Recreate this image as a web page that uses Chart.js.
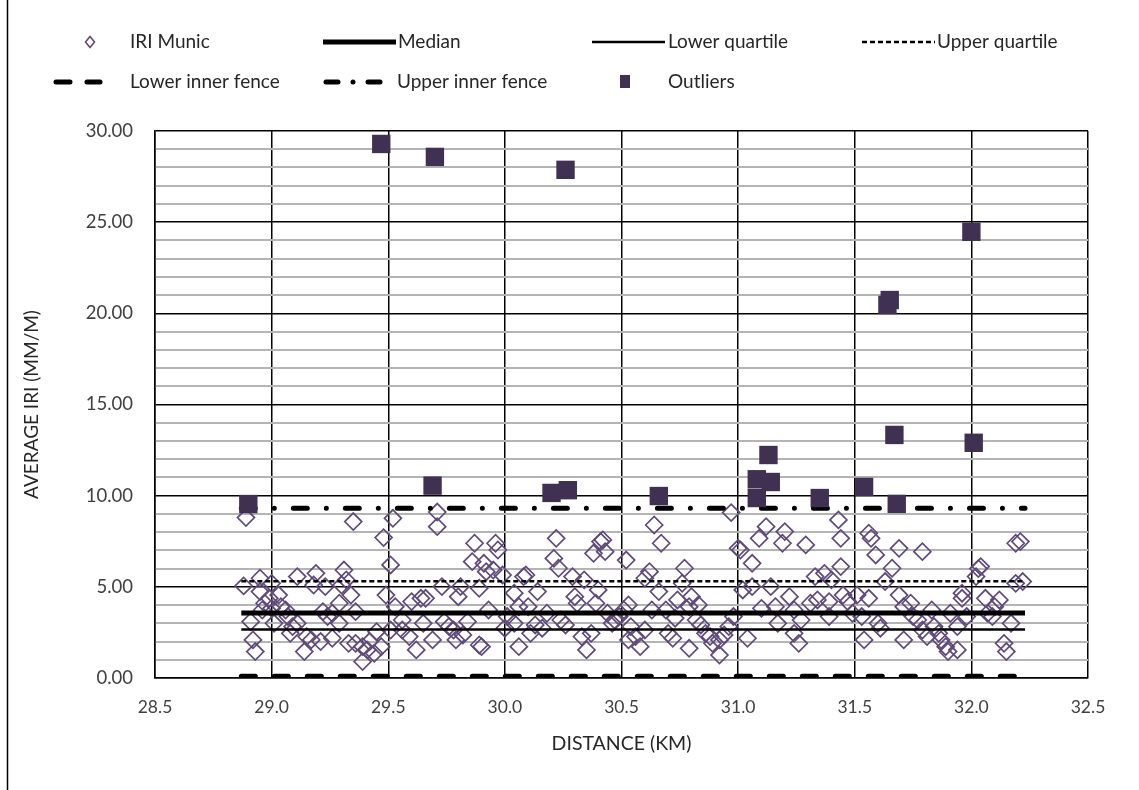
<!DOCTYPE html>
<html>
<head>
<meta charset="utf-8">
<script src="https://cdn.jsdelivr.net/npm/chart.js@4"></script>
<style>
  html, body { margin: 0; padding: 0; background: #fff; }
  #wrap { width: 1139px; height: 790px; position: relative; }
</style>
</head>
<body>
<div id="wrap"><canvas id="iri-chart"></canvas></div>
<script>
// IRI readings (distance km, IRI mm/m)
const iriX = [
  28.88, 28.89, 28.91, 28.92, 28.93, 28.95, 28.95, 28.96, 28.97, 28.99, 29.00, 29.00, 29.01, 29.03, 29.04, 29.06,
  29.07, 29.08, 29.09, 29.11, 29.11, 29.14, 29.15, 29.17, 29.18, 29.19, 29.21, 29.22, 29.23, 29.24, 29.26, 29.26,
  29.29, 29.29, 29.30, 29.31, 29.32, 29.33, 29.34, 29.35, 29.36, 29.36, 29.39, 29.39, 29.41, 29.42, 29.44, 29.45,
  29.47, 29.48, 29.49, 29.51, 29.51, 29.52, 29.53, 29.56, 29.56, 29.59, 29.60, 29.62, 29.64, 29.65, 29.66, 29.69,
  29.71, 29.71, 29.73, 29.74, 29.76, 29.78, 29.79, 29.80, 29.81, 29.82, 29.84, 29.86, 29.87, 29.89, 29.89, 29.90,
  29.91, 29.92, 29.93, 29.95, 29.96, 29.97, 29.99, 30.00, 30.01, 30.04, 30.04, 30.06, 30.06, 30.08, 30.09, 30.10,
  30.11, 30.13, 30.14, 30.16, 30.18, 30.21, 30.22, 30.23, 30.24, 30.26, 30.29, 30.30, 30.31, 30.33, 30.34, 30.35,
  30.37, 30.38, 30.39, 30.40, 30.41, 30.42, 30.43, 30.44, 30.46, 30.47, 30.49, 30.51, 30.52, 30.53,
  30.53, 30.54, 30.56, 30.58, 30.60, 30.60, 30.62, 30.63, 30.64, 30.66, 30.67, 30.69, 30.70, 30.72, 30.73, 30.74,
  30.76, 30.77, 30.79, 30.79, 30.80, 30.82, 30.83, 30.84, 30.86, 30.88, 30.89, 30.92, 30.92, 30.94, 30.96, 30.97,
  30.98, 31.00, 31.01, 31.02, 31.04, 31.06, 31.06, 31.09, 31.10, 31.12, 31.14, 31.16, 31.17, 31.19, 31.20, 31.22,
  31.24, 31.24, 31.26, 31.27, 31.29, 31.31, 31.33, 31.34, 31.37,
  31.39, 31.39, 31.40, 31.43, 31.44, 31.44, 31.45, 31.47, 31.49, 31.51, 31.53, 31.54, 31.56, 31.56, 31.57, 31.59,
  31.60, 31.61, 31.63, 31.66, 31.69, 31.69, 31.71, 31.71, 31.74, 31.75, 31.77, 31.79, 31.79, 31.81, 31.83, 31.84,
  31.86, 31.87, 31.89, 31.90, 31.91, 31.94, 31.94, 31.96, 31.96, 31.98, 32.02, 32.03, 32.04, 32.06, 32.07, 32.09,
  32.10, 32.12, 32.14, 32.15, 32.17, 32.19, 32.21, 32.19, 32.22
];
const iriY = [
  5.05, 8.80, 3.09, 2.09, 1.45, 5.47, 4.74, 3.73, 4.10, 4.37, 5.19, 3.82, 3.00, 4.55, 3.91, 3.73,
  3.37, 2.45, 2.82, 5.56, 3.00, 1.45, 2.27, 2.09, 5.10, 5.74, 2.00, 3.64, 5.01, 3.37, 2.18, 3.55,
  4.10, 3.00, 5.10, 5.92, 5.38, 1.90, 4.55, 8.58, 3.64, 1.90, 0.90, 1.72, 1.54, 2.00, 1.35, 2.54,
  1.72, 7.70, 4.55, 6.20, 2.63, 8.76, 3.91, 2.63, 3.18, 2.27, 4.19, 1.54, 4.37, 3.00, 4.37, 2.09,
  9.10, 8.30, 5.01, 3.09, 2.82, 2.63, 2.09, 4.46, 5.01, 2.36, 3.09, 6.38, 7.39, 4.92, 1.81, 1.72,
  6.29, 5.83, 3.73, 5.92, 7.39, 7.02, 5.65, 2.73, 3.37, 4.65, 3.00, 3.91, 1.72, 5.56, 5.65, 3.91,
  2.45, 2.91, 4.74, 2.73, 3.55, 6.56, 7.66, 6.02, 3.18, 2.91, 5.56, 4.46, 4.10, 2.27, 5.38, 1.54,
  2.45, 6.84, 4.10, 4.83, 7.48, 7.57, 6.93, 3.55, 3.00, 3.18, 3.37, 3.73, 6.47, 2.09,
  4.01, 2.82, 2.27, 1.72, 5.47, 2.63, 5.83, 3.73, 8.39, 4.74, 7.39, 3.73, 2.45, 2.18, 3.28, 4.28,
  5.19, 6.02, 3.91, 1.63, 4.46, 3.18, 4.01, 2.91, 2.45, 2.27, 1.90, 1.26, 2.09, 2.36, 2.82, 9.07,
  3.37, 7.11, 7.02, 4.83, 2.18, 6.29, 5.01, 7.66, 3.82, 8.30, 5.01, 3.91, 3.00, 7.39, 8.03, 4.46,
  2.45, 3.73, 1.90, 3.18, 7.30, 4.10, 5.56, 4.28, 5.74,
  4.19, 3.37, 5.38, 8.67, 7.66, 6.11, 4.55, 4.19, 3.55, 4.55, 3.37, 2.09, 4.37, 7.94, 7.66, 6.75,
  3.00, 2.73, 5.29, 6.02, 7.11, 4.55, 2.09, 3.91, 4.10, 3.37, 3.18, 6.93, 2.63, 2.27, 3.73, 2.82,
  2.45, 2.09, 1.72, 1.45, 3.55, 1.54, 2.82, 4.65, 4.37, 3.37, 5.56, 6.00, 6.11, 4.37, 3.55, 3.37,
  3.91, 4.28, 1.90, 1.45, 3.00, 7.39, 7.48, 5.19, 5.29
];

// outliers
const outX = [28.90, 29.47, 29.69, 29.70, 30.20, 30.26, 30.27, 30.66, 31.08, 31.08, 31.13, 31.14,
  31.35, 31.54, 31.64, 31.65, 31.67, 31.68, 32.00, 32.01];
const outY = [9.54, 29.29, 10.55, 28.58, 10.15, 27.87, 10.30, 9.98, 10.90, 9.87, 12.23, 10.75,
  9.87, 10.48, 20.46, 20.73, 13.33, 9.55, 24.47, 12.90];

// box statistics
const lineStart = 28.87;
const lineEnd = 32.23;
const median = 3.57;
const lowerQuartile = 2.66;
const upperQuartile = 5.30;
const lowerInnerFence = 0.1;
const upperInnerFence = 9.31;

const xTicks = [28.5, 29.0, 29.5, 30.0, 30.5, 31.0, 31.5, 32.0, 32.5];
const yTicks = [0, 5, 10, 15, 20, 25, 30];

const FONT = "Lato";
const PURPLE = "#604a7b";
const DARK = "#403152";

function hLine(label, y, width, dash, order) {
    return {
        type: "scatter",
        label: label,
        data: [{ x: lineStart, y: y }, { x: lineEnd, y: y }],
        showLine: true,
        borderColor: "#000",
        borderWidth: width,
        borderDash: dash,
        borderCapStyle: dash.length ? "round" : "butt",
        pointRadius: 0,
        pointHoverRadius: 0,
        order: order,
    };
}

const legendItems = [
    { label: "IRI Munic", kind: "diamond", x0: 90, tx: 130, y: 42 },
    { label: "Median", kind: "line", x0: 323, x1: 396, tx: 398, y: 42, w: 5, dash: [] },
    { label: "Lower quartile", kind: "line", x0: 592, x1: 665, tx: 668, y: 42, w: 2.5, dash: [] },
    { label: "Upper quartile", kind: "line", x0: 862, x1: 935, tx: 937, y: 42, w: 2.5, dash: [5, 3], cap: "butt" },
    { label: "Lower inner fence", kind: "line", x0: 56, x1: 100, tx: 130, y: 82, w: 5, dash: [14, 17] },
    { label: "Upper inner fence", kind: "line", x0: 326, x1: 392, tx: 397, y: 82, w: 5, dash: [12, 15, 0.01, 15] },
    { label: "Outliers", kind: "square", x0: 625, tx: 668, y: 82 },
];

const legendPlugin = {
    id: "legendPlugin",
    afterDraw(chart) {
        const ctx = chart.ctx;
        ctx.save();
        // outer frame (left edge)
        ctx.strokeStyle = "#000";
        ctx.lineWidth = 1.5;
        ctx.beginPath();
        ctx.moveTo(7.5, 0);
        ctx.lineTo(7.5, 790);
        ctx.stroke();

        ctx.font = "19px " + FONT;
        ctx.fillStyle = "#262626";
        ctx.textBaseline = "middle";
        legendItems.forEach(it => {
            if (it.kind === "diamond") {
                ctx.strokeStyle = PURPLE;
                ctx.lineWidth = 1.6;
                ctx.setLineDash([]);
                ctx.beginPath();
                ctx.moveTo(it.x0, it.y - 5.5);
                ctx.lineTo(it.x0 + 4.5, it.y);
                ctx.lineTo(it.x0, it.y + 5.5);
                ctx.lineTo(it.x0 - 4.5, it.y);
                ctx.closePath();
                ctx.stroke();
            } else if (it.kind === "square") {
                ctx.fillStyle = DARK;
                ctx.fillRect(it.x0 - 5, it.y - 7, 10, 13);
                ctx.fillStyle = "#262626";
            } else {
                ctx.strokeStyle = "#000";
                ctx.lineWidth = it.w;
                ctx.lineCap = it.cap || (it.dash.length ? "round" : "butt");
                ctx.setLineDash(it.dash);
                ctx.beginPath();
                ctx.moveTo(it.x0, it.y);
                ctx.lineTo(it.x1, it.y);
                ctx.stroke();
                ctx.setLineDash([]);
            }
            ctx.fillText(it.label, it.tx, it.y);
        });
        ctx.restore();
    },
};

const canvas = document.querySelector("#iri-chart");
new Chart(canvas, {
    data: {
        datasets: [
            {
                type: "scatter",
                label: "IRI Munic",
                data: iriX.map((x, i) => ({ x: x, y: iriY[i] })),
                pointStyle: "rectRot",
                pointRadius: 8.5,
                pointBorderColor: PURPLE,
                pointBackgroundColor: "rgba(0,0,0,0)",
                pointBorderWidth: 1.7,
                order: 10,
            },
            hLine("Median", median, 5, [], 2),
            hLine("Lower quartile", lowerQuartile, 2.5, [], 3),
            Object.assign(hLine("Upper quartile", upperQuartile, 2.5, [5, 3], 4), { borderCapStyle: "butt" }),
            hLine("Lower inner fence", lowerInnerFence, 5, [14, 19], 5),
            hLine("Upper inner fence", upperInnerFence, 5, [14, 19, 0.01, 19], 6),
            {
                type: "scatter",
                label: "Outliers",
                data: outX.map((x, i) => ({ x: x, y: outY[i] })),
                pointStyle: "rect",
                pointRadius: 13,
                pointBorderWidth: 0,
                pointBackgroundColor: DARK,
                pointBorderColor: DARK,
                order: 0,
            },
        ],
    },
    options: {
        responsive: true,
        maintainAspectRatio: false,
        animation: false,
        layout: { padding: { top: 131, right: 51, bottom: 33, left: 18 } },
        plugins: {
            legend: { display: false },
            tooltip: { enabled: false },
        },
        scales: {
            x: {
                type: "linear",
                min: 28.5,
                max: 32.5,
                afterBuildTicks: s => { s.ticks = xTicks.map(v => ({ value: v })); },
                afterFit: s => { s.height = 79; },
                ticks: {
                    callback: v => v.toFixed(1),
                    font: { family: FONT, size: 17.5 },
                    color: "#404040",
                    padding: 19,
                    maxRotation: 0,
                    autoSkip: false,
                },
                grid: { color: "#000", lineWidth: 1.5, drawTicks: false },
                border: { color: "#000", width: 1.5 },
                title: {
                    display: true,
                    text: "DISTANCE (KM)",
                    font: { family: FONT, size: 19.5 },
                    color: "#262626",
                    padding: { top: 4, bottom: 2 },
                },
            },
            y: {
                type: "linear",
                min: 0,
                max: 30,
                afterFit: s => { s.width = 137; },
                ticks: {
                    stepSize: 1,
                    autoSkip: false,
                    callback: v => (yTicks.includes(v) ? v.toFixed(2) : ""),
                    font: { family: FONT, size: 18.5 },
                    color: "#404040",
                    padding: 22,
                },
                grid: {
                    color: c => (c.tick && c.tick.value % 5 === 0 ? "#000" : "#b4b4b4"),
                    lineWidth: c => (c.tick && c.tick.value % 5 === 0 ? 1.5 : 2),
                    drawTicks: false,
                },
                border: { color: "#000", width: 1.5 },
                title: {
                    display: true,
                    text: "AVERAGE IRI (MM/M)",
                    font: { family: FONT, size: 19 },
                    color: "#262626",
                    padding: { top: 2, bottom: 4 },
                },
            },
        },
    },
    plugins: [legendPlugin],
});
</script>
</body>
</html>
